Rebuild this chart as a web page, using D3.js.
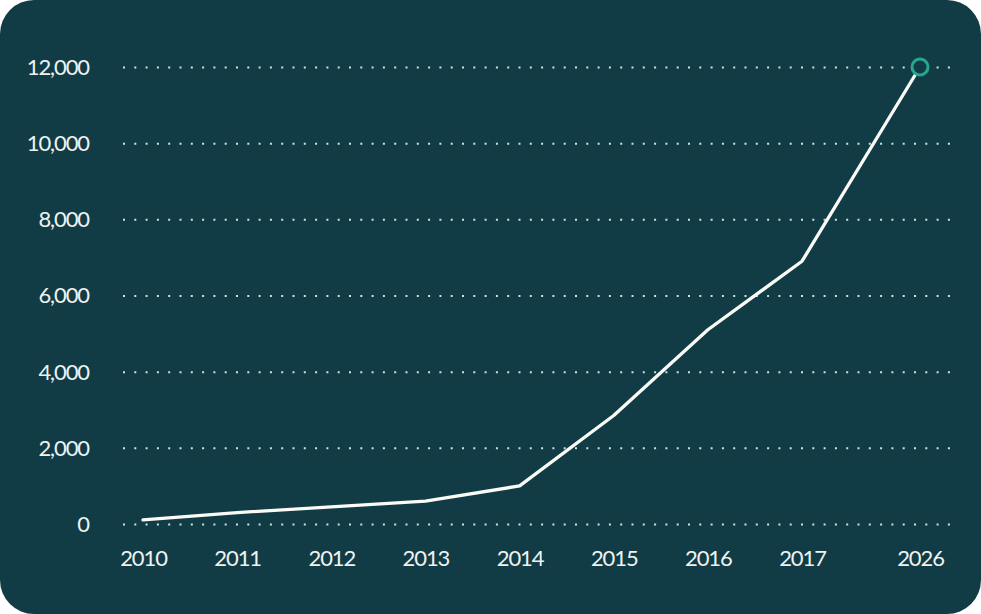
<!DOCTYPE html>
<html>
<head>
<meta charset="utf-8">
<script src="https://cdn.jsdelivr.net/npm/d3@7"></script>
<style>
  body { margin: 0; background: #ffffff; }
  svg text { font-family: Lato, "Noto Sans", sans-serif; }
</style>
</head>
<body>
<div id="chart"></div>
<script>
// chart data
const years = ['2010', '2011', '2012', '2013', '2014', '2015', '2016', '2017', '2026'];
const values = [110, 300, 450, 600, 1000, 2850, 5100, 6900, 12000];
const yTicks = [0, 2000, 4000, 6000, 8000, 10000, 12000];

const width = 981;
const height = 614;

const svg = d3.select('#chart').append('svg')
    .attr('width', width)
    .attr('height', height);

// card background
svg.append('rect')
    .attr('x', 0)
    .attr('y', 0)
    .attr('width', width)
    .attr('height', height)
    .attr('rx', 34)
    .attr('fill', '#113c46');

// last category sits a bit further out than the rest
let x = d3.scaleLinear()
    .domain([0, years.length - 2, years.length - 1])
    .range([143, 802, 920]);
let y = d3.scaleLinear()
    .domain([0, 12000])
    .range([524, 67]);

// Y axis + dotted gridlines
let yAxis = svg.append('g')
    .attr('transform', 'translate(123,0)')
    .call(d3.axisLeft(y)
        .tickValues(yTicks)
        .tickSize(-829)
        .tickPadding(34)
        .tickFormat(d3.format(',')));
yAxis.select('.domain').remove();
yAxis.selectAll('.tick line')
    .attr('stroke', '#cfe2e2')
    .attr('stroke-width', 2)
    .attr('stroke-dasharray', '2,9.3');
yAxis.selectAll('.tick text')
    .attr('fill', '#eef3f2')
    .attr('font-size', 22)
    .attr('letter-spacing', '-1.1px')
    .attr('dy', '0.34em');

// X axis
let xAxis = svg.append('g')
    .attr('transform', 'translate(0,524)')
    .call(d3.axisBottom(x)
        .tickValues(d3.range(years.length))
        .tickSize(0)
        .tickPadding(26)
        .tickFormat(i => years[i]));
xAxis.select('.domain').remove();
xAxis.selectAll('.tick text')
    .attr('fill', '#eef3f2')
    .attr('font-size', 22)
    .attr('letter-spacing', '-1.1px');

// the line
svg.append('path')
    .datum(values)
    .attr('fill', 'none')
    .attr('stroke', '#fbfbf6')
    .attr('stroke-width', 3.3)
    .attr('stroke-linejoin', 'round')
    .attr('stroke-linecap', 'round')
    .attr('d', d3.line()
        .x((d, i) => x(i))
        .y(d => y(d)));

// end marker
let last = values.length - 1;
svg.append('circle')
    .attr('cx', x(last))
    .attr('cy', y(values[last]))
    .attr('r', 8)
    .attr('fill', '#113c46')
    .attr('stroke', '#27a58e')
    .attr('stroke-width', 3);
</script>
</body>
</html>
